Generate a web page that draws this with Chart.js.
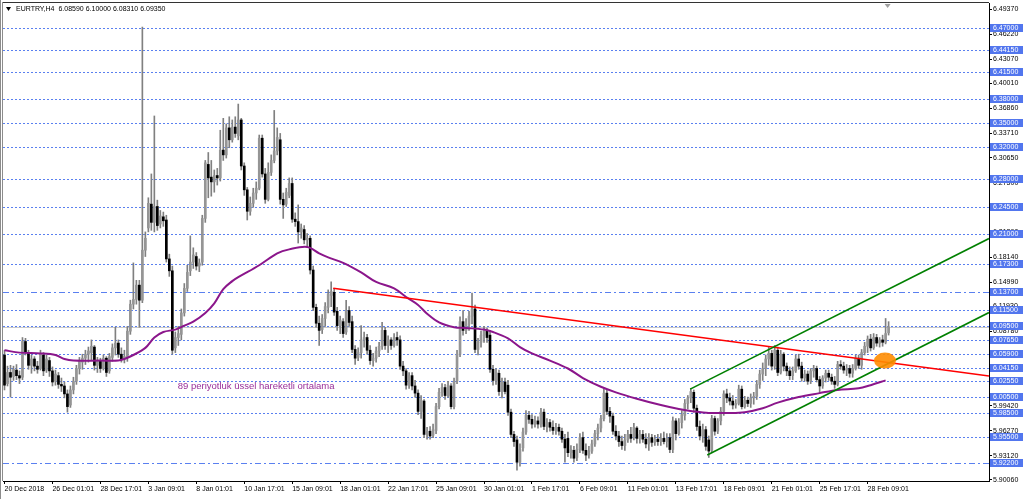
<!DOCTYPE html>
<html>
<head>
<meta charset="utf-8">
<title>EURTRY,H4</title>
<script src="https://cdn.jsdelivr.net/npm/chart.js@4.4.1/dist/chart.umd.min.js"></script>
<style>
  html, body { margin: 0; padding: 0; background: #ffffff; }
  #wrap { position: relative; width: 1024px; height: 499px; }
</style>
</head>
<body>
<div id="wrap"><canvas id="chart"></canvas></div>
<script>
// EURTRY H4 candles
const symbolName = 'EURTRY,H4';

const opens = [
  6.058,6.022,6.036,6.031,6.039,6.032,6.030,6.075,6.060,6.045,
  6.053,6.044,6.041,6.058,6.039,6.051,6.038,6.025,6.032,6.021,
  6.019,6.009,5.995,6.014,6.025,6.041,6.049,6.054,6.059,6.061,
  6.068,6.045,6.050,6.041,6.054,6.038,6.055,6.067,6.073,6.059,
  6.053,6.055,6.088,6.122,6.128,6.146,6.127,6.190,6.218,6.248,
  6.225,6.245,6.223,6.232,6.228,6.179,6.164,6.067,6.080,6.084,
  6.111,6.142,6.164,6.175,6.182,6.170,6.175,6.230,6.298,6.282,
  6.276,6.284,6.281,6.316,6.310,6.344,6.329,6.345,6.334,6.354,
  6.296,6.266,6.239,6.249,6.262,6.268,6.331,6.286,6.254,6.288,
  6.303,6.315,6.329,6.254,6.248,6.259,6.274,6.229,6.226,6.213,
  6.216,6.203,6.205,6.165,6.118,6.098,6.090,6.104,6.118,6.133,
  6.137,6.113,6.095,6.100,6.087,6.114,6.100,6.065,6.055,6.061,
  6.077,6.080,6.064,6.051,6.054,6.063,6.069,6.089,6.070,6.077,
  6.070,6.080,6.077,6.044,6.038,6.020,6.032,6.019,6.010,5.987,
  6.000,5.958,5.962,5.957,5.963,5.993,6.011,6.017,6.007,6.019,
  5.993,6.025,6.059,6.100,6.089,6.097,6.107,6.116,6.065,6.074,
  6.083,6.088,6.083,6.040,6.026,6.035,6.012,6.024,6.020,5.986,
  5.958,5.951,5.923,5.941,5.961,5.982,5.977,5.971,5.975,5.971,
  5.986,5.968,5.973,5.967,5.963,5.967,5.962,5.952,5.953,5.935,
  5.938,5.929,5.939,5.954,5.938,5.932,5.937,5.946,5.959,5.966,
  5.978,6.010,5.987,5.981,5.962,5.956,5.949,5.944,5.951,5.958,
  5.954,5.966,5.953,5.958,5.952,5.946,5.954,5.948,5.952,5.949,
  5.953,5.949,5.954,5.939,5.975,5.959,5.973,5.982,5.997,6.004,
  6.011,5.991,5.968,5.956,5.964,5.951,5.938,5.978,5.962,5.975,
  5.987,6.009,6.004,6.000,5.995,5.997,6.015,5.993,6.001,5.997,
  6.004,6.006,6.021,6.034,6.041,6.053,6.060,6.044,6.064,6.036,
  6.059,6.044,6.038,6.032,6.038,6.053,6.044,6.029,6.034,6.025,
  6.038,6.041,6.027,6.019,6.029,6.035,6.030,6.025,6.021,6.046,
  6.044,6.039,6.041,6.035,6.041,6.054,6.045,6.061,6.069,6.078,
  6.067,6.080,6.073,6.077,6.074,6.0859
];
const highs = [
  6.064,6.044,6.045,6.044,6.046,6.038,6.080,6.079,6.064,6.058,
  6.056,6.050,6.064,6.061,6.058,6.055,6.043,6.039,6.036,6.029,
  6.024,6.014,6.019,6.030,6.045,6.055,6.059,6.064,6.068,6.077,
  6.070,6.055,6.054,6.058,6.056,6.060,6.072,6.093,6.077,6.067,
  6.064,6.094,6.127,6.174,6.152,6.152,6.471,6.213,6.256,6.286,
  6.359,6.253,6.240,6.238,6.234,6.185,6.170,6.087,6.094,6.116,
  6.148,6.171,6.208,6.193,6.187,6.179,6.234,6.303,6.313,6.303,
  6.291,6.293,6.341,6.356,6.349,6.358,6.354,6.358,6.374,6.356,
  6.300,6.269,6.257,6.268,6.276,6.335,6.335,6.293,6.300,6.310,
  6.366,6.344,6.337,6.262,6.268,6.281,6.281,6.237,6.247,6.223,
  6.221,6.211,6.208,6.170,6.122,6.107,6.109,6.124,6.140,6.150,
  6.142,6.118,6.107,6.104,6.127,6.119,6.107,6.070,6.067,6.095,
  6.087,6.084,6.070,6.060,6.068,6.074,6.099,6.093,6.082,6.080,
  6.085,6.087,6.082,6.050,6.041,6.036,6.036,6.026,6.014,6.007,
  6.002,5.967,5.968,5.971,5.997,6.016,6.022,6.021,6.025,6.022,
  6.029,6.064,6.106,6.114,6.104,6.113,6.136,6.121,6.079,6.088,
  6.094,6.092,6.089,6.045,6.041,6.039,6.029,6.029,6.026,5.990,
  5.962,5.956,5.946,5.966,5.988,5.987,5.983,5.981,5.980,5.991,
  5.990,5.978,5.977,5.975,5.972,5.971,5.966,5.958,5.961,5.944,
  5.943,5.946,5.959,5.961,5.946,5.943,5.951,5.963,5.971,5.982,
  6.015,6.014,5.992,5.985,5.969,5.962,5.956,5.958,5.963,5.967,
  5.972,5.968,5.963,5.963,5.959,5.959,5.958,5.957,5.958,5.959,
  5.961,5.959,5.959,5.980,5.978,5.978,5.988,6.002,6.007,6.016,
  6.014,5.995,5.975,5.971,5.968,5.956,5.982,5.981,5.978,5.992,
  6.013,6.015,6.010,6.007,6.002,6.020,6.019,6.006,6.005,6.009,
  6.011,6.026,6.039,6.048,6.058,6.068,6.064,6.070,6.068,6.064,
  6.061,6.048,6.043,6.043,6.058,6.059,6.049,6.039,6.038,6.041,
  6.045,6.044,6.031,6.032,6.039,6.039,6.034,6.031,6.050,6.051,
  6.049,6.046,6.045,6.046,6.058,6.058,6.065,6.074,6.082,6.084,
  6.085,6.084,6.080,6.083,6.104,6.1000
];
const lows = [
  6.014,6.019,6.005,6.026,6.027,6.022,6.027,6.058,6.040,6.035,
  6.038,6.035,6.039,6.032,6.036,6.031,6.019,6.020,6.016,6.012,
  6.004,5.986,5.992,6.009,6.021,6.034,6.040,6.046,6.049,6.051,
  6.039,6.036,6.036,6.039,6.031,6.035,6.050,6.058,6.055,6.049,
  6.048,6.050,6.084,6.116,6.122,6.093,6.124,6.182,6.213,6.215,
  6.213,6.215,6.218,6.220,6.175,6.157,6.059,6.061,6.070,6.077,
  6.107,6.138,6.158,6.167,6.165,6.163,6.171,6.225,6.256,6.258,
  6.263,6.272,6.277,6.303,6.306,6.319,6.326,6.332,6.329,6.291,
  6.259,6.228,6.234,6.244,6.254,6.266,6.282,6.249,6.252,6.284,
  6.300,6.310,6.248,6.230,6.245,6.256,6.225,6.220,6.199,6.205,
  6.198,6.194,6.160,6.114,6.093,6.070,6.085,6.094,6.111,6.119,
  6.108,6.089,6.085,6.080,6.084,6.094,6.061,6.046,6.051,6.054,
  6.068,6.059,6.046,6.044,6.049,6.056,6.065,6.065,6.061,6.065,
  6.068,6.070,6.040,6.032,6.015,6.016,6.014,6.005,5.983,5.978,
  5.954,5.952,5.952,5.954,5.959,5.990,6.006,6.002,6.005,5.990,
  5.990,6.022,6.056,6.083,6.085,6.089,6.097,6.061,6.058,6.068,
  6.074,6.074,6.036,6.020,6.021,6.007,6.004,6.009,5.982,5.954,
  5.943,5.913,5.918,5.937,5.958,5.972,5.966,5.967,5.966,5.967,
  5.964,5.961,5.962,5.958,5.958,5.957,5.948,5.923,5.930,5.928,
  5.923,5.925,5.935,5.934,5.925,5.928,5.934,5.943,5.951,5.961,
  5.975,5.983,5.973,5.958,5.951,5.943,5.939,5.938,5.948,5.948,
  5.951,5.947,5.947,5.948,5.941,5.938,5.943,5.944,5.944,5.944,
  5.946,5.942,5.935,5.935,5.951,5.957,5.966,5.976,5.990,5.998,
  5.986,5.963,5.951,5.948,5.938,5.929,5.935,5.957,5.959,5.970,
  5.982,5.998,5.995,5.990,5.991,5.995,5.990,5.991,5.993,5.992,
  5.996,6.002,6.016,6.026,6.032,6.045,6.039,6.040,6.032,6.034,
  6.038,6.032,6.027,6.027,6.036,6.040,6.025,6.025,6.021,6.022,
  6.030,6.024,6.010,6.016,6.024,6.026,6.021,6.016,6.019,6.040,
  6.035,6.032,6.030,6.030,6.039,6.041,6.040,6.058,6.061,6.063,
  6.065,6.069,6.068,6.069,6.072,6.0831
];
const closes = [
  6.020,6.036,6.030,6.040,6.032,6.029,6.075,6.061,6.045,6.053,
  6.044,6.040,6.059,6.038,6.053,6.038,6.024,6.034,6.021,6.019,
  6.009,5.993,6.014,6.025,6.041,6.050,6.054,6.059,6.063,6.069,
  6.045,6.050,6.041,6.054,6.036,6.056,6.067,6.073,6.059,6.053,
  6.056,6.088,6.122,6.128,6.146,6.127,6.190,6.205,6.249,6.225,
  6.245,6.221,6.233,6.227,6.179,6.164,6.064,6.080,6.085,6.111,
  6.142,6.162,6.175,6.184,6.170,6.174,6.230,6.300,6.281,6.276,
  6.284,6.281,6.316,6.310,6.344,6.329,6.345,6.337,6.354,6.296,
  6.266,6.239,6.249,6.262,6.268,6.331,6.286,6.254,6.288,6.303,
  6.315,6.332,6.254,6.247,6.263,6.274,6.229,6.226,6.213,6.218,
  6.203,6.205,6.165,6.118,6.098,6.089,6.104,6.119,6.135,6.138,
  6.112,6.095,6.102,6.085,6.114,6.099,6.065,6.054,6.061,6.077,
  6.080,6.064,6.051,6.054,6.063,6.069,6.089,6.070,6.077,6.070,
  6.080,6.077,6.044,6.038,6.020,6.032,6.019,6.010,5.987,6.001,
  5.958,5.962,5.956,5.964,5.993,6.011,6.017,6.007,6.020,5.993,
  6.025,6.059,6.100,6.089,6.097,6.107,6.116,6.065,6.074,6.083,
  6.088,6.080,6.040,6.026,6.036,6.012,6.024,6.012,5.986,5.958,
  5.949,5.923,5.939,5.961,5.982,5.977,5.971,5.975,5.971,5.986,
  5.968,5.973,5.967,5.963,5.967,5.962,5.952,5.941,5.935,5.939,
  5.928,5.939,5.954,5.938,5.932,5.937,5.946,5.959,5.966,5.978,
  6.010,5.987,5.981,5.962,5.956,5.949,5.944,5.951,5.958,5.953,
  5.967,5.953,5.958,5.952,5.946,5.954,5.948,5.952,5.949,5.953,
  5.949,5.953,5.939,5.975,5.959,5.973,5.983,5.997,6.004,6.012,
  5.991,5.968,5.956,5.964,5.943,5.937,5.978,5.962,5.975,5.987,
  6.009,6.004,6.000,5.995,5.997,6.015,5.993,6.001,5.997,6.004,
  6.006,6.021,6.034,6.041,6.053,6.060,6.044,6.064,6.036,6.059,
  6.044,6.038,6.032,6.038,6.053,6.044,6.029,6.034,6.025,6.038,
  6.041,6.027,6.019,6.029,6.035,6.030,6.025,6.021,6.046,6.044,
  6.039,6.041,6.035,6.041,6.054,6.045,6.061,6.069,6.078,6.067,
  6.080,6.073,6.077,6.074,6.085,6.0935
];

// 89 period EMA (bar index -> value)
const maBars = [0,5,12,17,20,23,32,38,40,43,47,50,53,57,60,63,67,70,73,76,
  78,85,91,95,101,105,108,113,119,124,130,134,138,141,145,150,154,160,163,168,
  172,176,182,188,193,199,204,211,219,225,230,235,241,247,253,258,265,272,278,285,
  289,294];
const maValues = [6.064,6.061,6.060,6.058,6.053,6.051,6.051,6.051,6.053,6.058,
  6.067,6.080,6.087,6.090,6.095,6.100,6.111,6.123,6.141,6.151,
  6.156,6.171,6.186,6.191,6.194,6.186,6.181,6.174,6.162,6.150,
  6.142,6.131,6.121,6.110,6.099,6.093,6.092,6.090,6.087,6.079,
  6.068,6.060,6.051,6.041,6.029,6.018,6.011,6.003,5.995,5.990,
  5.987,5.985,5.985,5.986,5.991,5.998,6.005,6.010,6.014,6.016,
  6.020,6.026];

// trend lines (bar index, price)
const resistBars = [109.7, 328.5];
const resistPrices = [6.142, 6.0315];
const channelTopBars = [228.8, 328.5];
const channelTopPrices = [6.015, 6.2047];
const channelLowBars = [234.5, 328.5];
const channelLowPrices = [5.932, 6.1115];

// horizontal levels with their price tags
const levelValues = [6.47, 6.4415, 6.415, 6.38, 6.35, 6.32, 6.28, 6.245, 6.21, 6.173,
  6.137, 6.115, 6.095, 6.0765, 6.059, 6.0415, 6.0255, 6.005, 5.985, 5.955, 5.922];
const dashDotLevels = [6.137, 5.922];

// price scale ticks
const priceTicks = [6.4937, 6.4622, 6.4307, 6.4001, 6.3686, 6.3371, 6.3065, 6.2750,
  6.2435, 6.2129, 6.1814, 6.1499, 6.1193, 6.0878, 6.0563, 6.0248, 5.9942, 5.9627,
  5.9312, 5.9006];

// time scale
const dateTickBars = [0,16,32,48,64,80,96,112,128,144,160,176,192,208,224,240,256,272,288];
const dateLabels = ['20 Dec 2018','26 Dec 01:01','28 Dec 17:01','3 Jan 09:01','8 Jan 01:01',
  '10 Jan 17:01','15 Jan 09:01','18 Jan 01:01','22 Jan 17:01','25 Jan 09:01','30 Jan 01:01',
  '1 Feb 17:01','6 Feb 09:01','11 Feb 01:01','13 Feb 17:01','18 Feb 09:01','21 Feb 01:01',
  '25 Feb 17:01','28 Feb 09:01'];

// marker and note
const markBar = 293.8;
const markPrice = 6.051;
const noteText = '89 periyotluk üssel hareketli ortalama';
const noteBar = 57.8;
const notePrice = 6.018;

const lastIdx = closes.length - 1;
const fnt = '"Liberation Sans", Arial, sans-serif';

const wickData = highs.map((h, i) => ({ x: i, y: [lows[i], h] }));
const bodyData = opens.map((o, i) => ({ x: i, y: [o, closes[i]] }));
const bodyColors = opens.map((o, i) => closes[i] >= o ? '#959595' : '#000000');
const maData = maBars.map((b, i) => ({ x: b, y: maValues[i] }));
const toPts = (bars, prices) => bars.map((b, i) => ({ x: b, y: prices[i] }));

const levelLines = {
  id: 'levelLines',
  beforeDatasetsDraw(chart) {
    const { ctx, chartArea: a, scales: { y } } = chart;
    ctx.save();
    ctx.beginPath();
    ctx.rect(a.left, a.top, a.width, a.height);
    ctx.clip();
    ctx.lineWidth = 1;
    // bid line
    const by = Math.round(y.getPixelForValue(closes[lastIdx])) + 0.5;
    ctx.strokeStyle = '#c8c8c8';
    ctx.beginPath(); ctx.moveTo(a.left, by); ctx.lineTo(a.right, by); ctx.stroke();
    levelValues.forEach(v => {
      const py = Math.round(y.getPixelForValue(v)) + 0.5;
      ctx.strokeStyle = '#5a80f0';
      ctx.setLineDash(dashDotLevels.includes(v) ? [6, 3, 2, 3] : [2, 2]);
      ctx.beginPath(); ctx.moveTo(a.left, py); ctx.lineTo(a.right, py); ctx.stroke();
    });
    ctx.restore();
  }
};

const overlay = {
  id: 'overlay',
  afterDatasetsDraw(chart) {
    const { ctx, scales: { x, y } } = chart;
    ctx.save();
    ctx.fillStyle = 'rgba(255, 140, 0, 0.9)';
    ctx.beginPath();
    ctx.ellipse(x.getPixelForValue(markBar), y.getPixelForValue(markPrice), 11, 8, 0, 0, Math.PI * 2);
    ctx.fill();
    ctx.restore();
  },
  afterDraw(chart) {
    const { ctx, chartArea: a, scales: { x, y } } = chart;
    ctx.save();
    // window frame
    ctx.lineWidth = 1;
    ctx.strokeStyle = '#8c8c8c';
    ctx.beginPath();
    ctx.moveTo(0.5, 0); ctx.lineTo(0.5, 499);
    ctx.moveTo(a.left - 0.5, a.top - 1); ctx.lineTo(a.left - 0.5, a.bottom);
    ctx.stroke();
    ctx.strokeStyle = '#333333';
    ctx.beginPath();
    ctx.moveTo(a.left, a.top - 0.5); ctx.lineTo(a.right, a.top - 0.5);
    ctx.stroke();

    // price tags of the levels
    ctx.font = '7px ' + fnt;
    ctx.textBaseline = 'middle';
    ctx.textAlign = 'left';
    levelValues.forEach(v => {
      const py = Math.round(y.getPixelForValue(v));
      ctx.fillStyle = '#5276ee';
      ctx.fillRect(a.right + 1, py - 4, 33, 8);
      ctx.fillStyle = '#ffffff';
      ctx.fillText(v.toFixed(5), a.right + 4, py);
    });

    // symbol line
    ctx.fillStyle = '#000000';
    ctx.beginPath();
    ctx.moveTo(6, 7); ctx.lineTo(11, 7); ctx.lineTo(8.5, 11); ctx.closePath();
    ctx.fill();
    const ohlc = [opens[lastIdx], highs[lastIdx], lows[lastIdx], closes[lastIdx]].map(v => v.toFixed(5)).join(' ');
    ctx.fillText(symbolName + '  ' + ohlc, 16, 9.5);

    // chart shift marker
    const sx = x.getPixelForValue(lastIdx) - 1;
    ctx.fillStyle = '#a0a0a0';
    ctx.beginPath();
    ctx.moveTo(sx - 3, a.top + 1); ctx.lineTo(sx + 3, a.top + 1); ctx.lineTo(sx, a.top + 5); ctx.closePath();
    ctx.fill();

    // note under the average
    ctx.font = '9.5px ' + fnt;
    ctx.fillStyle = '#9a2f9a';
    ctx.fillText(noteText, x.getPixelForValue(noteBar), y.getPixelForValue(notePrice));
    ctx.restore();
  }
};

const ctx = document.getElementById('chart').getContext('2d');
const chart = new Chart(ctx, {
  type: 'bar',
  data: {
    datasets: [
      { type: 'line', data: toPts(channelTopBars, channelTopPrices), borderColor: '#008000', borderWidth: 1.6, pointRadius: 0, order: 1 },
      { type: 'line', data: toPts(channelLowBars, channelLowPrices), borderColor: '#008000', borderWidth: 1.6, pointRadius: 0, order: 1 },
      { type: 'line', data: toPts(resistBars, resistPrices), borderColor: '#ff0000', borderWidth: 1.6, pointRadius: 0, order: 2 },
      { type: 'line', data: maData, borderColor: '#8b168b', borderWidth: 2, pointRadius: 0, tension: 0.35, order: 3 },
      { data: bodyData, backgroundColor: bodyColors, barThickness: 2, grouped: false, minBarLength: 1, order: 4 },
      { data: wickData, backgroundColor: '#808080', barThickness: 1, grouped: false, minBarLength: 1, order: 5 }
    ]
  },
  options: {
    animation: false,
    responsive: true,
    maintainAspectRatio: false,
    layout: { padding: { left: 3, top: 3, right: 0, bottom: 0 } },
    plugins: { legend: { display: false }, tooltip: { enabled: false } },
    scales: {
      x: {
        type: 'linear',
        min: -0.5,
        max: 328.5,
        offset: false,
        grid: { display: true, drawOnChartArea: false, drawTicks: true, tickLength: 3, color: '#000000', offset: false },
        border: { display: true, color: '#000000' },
        ticks: {
          autoSkip: false, maxRotation: 0, align: 'start', padding: 1,
          color: '#000000', font: { family: fnt, size: 7 },
          callback: v => dateLabels[dateTickBars.indexOf(v)]
        },
        afterBuildTicks: s => { s.ticks = dateTickBars.map(v => ({ value: v })); },
        afterFit: s => { s.height = 18; s.paddingLeft = 0; s.paddingRight = 0; }
      },
      y: {
        position: 'right',
        min: 5.89934,
        max: 6.50126,
        grid: { display: true, drawOnChartArea: false, drawTicks: true, tickLength: 3, color: '#000000' },
        border: { display: true, color: '#000000' },
        ticks: {
          autoSkip: false, padding: 1, color: '#000000', font: { family: fnt, size: 7 },
          callback: v => v.toFixed(5)
        },
        afterBuildTicks: s => { s.ticks = priceTicks.map(v => ({ value: v })); },
        afterFit: s => { s.width = 35; s.paddingTop = 0; s.paddingBottom = 0; }
      }
    }
  },
  plugins: [levelLines, overlay]
});
</script>
</body>
</html>
